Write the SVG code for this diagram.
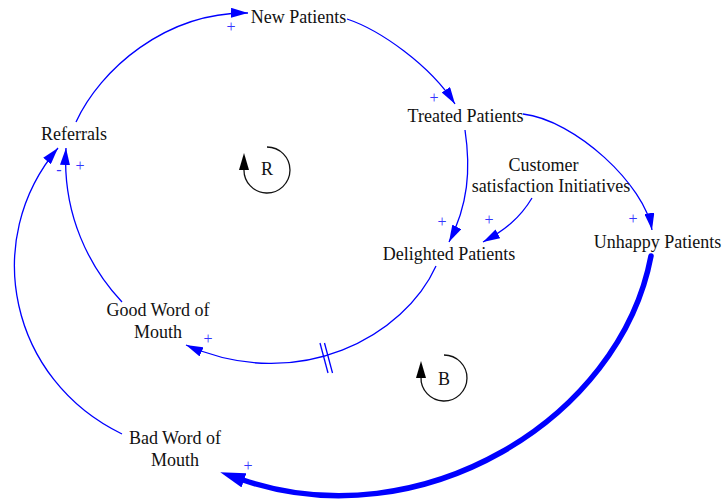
<svg xmlns="http://www.w3.org/2000/svg" width="723" height="500" viewBox="0 0 723 500">
<defs>
<style>
.lbl{font-family:"Liberation Serif","Times New Roman",serif;font-size:18px;fill:#111;text-anchor:middle}
.pol{font-family:"Liberation Serif","Times New Roman",serif;font-size:16px;fill:#3434ff;text-anchor:middle}
.link{fill:none;stroke:#0000ff;stroke-width:1.3}
.thick{fill:none;stroke:#0000ff;stroke-width:5.5;stroke-linecap:round}
.loop{fill:none;stroke:#111;stroke-width:1.3}
</style>
<marker id="arr" markerUnits="userSpaceOnUse" markerWidth="17" markerHeight="10" refX="17" refY="5" orient="auto" viewBox="0 0 17 10">
<path d="M0,0 L17,5 L0,10 z" fill="#0000ff"/>
</marker>
<marker id="arrBig" markerUnits="userSpaceOnUse" markerWidth="25" markerHeight="15" refX="1" refY="7.5" orient="auto" viewBox="0 0 25 15">
<path d="M0,0 L25,7.5 L0,15 z" fill="#0000ff"/>
</marker>
</defs>
<rect width="723" height="500" fill="#fff"/>
<g id="connectors">
<path class="link" d="M76,122 C100,70 165,12 248,13" marker-end="url(#arr)"/>
<path class="link" d="M347,19 C380,30 430,65 455,104" marker-end="url(#arr)"/>
<path class="link" d="M465,130 C471,170 468,205 449,242" marker-end="url(#arr)"/>
<path class="link" d="M532,198 C520,218 505,230 483,242" marker-end="url(#arr)"/>
<path class="link" d="M523,114 C575,120 645,185 652,230" marker-end="url(#arr)"/>
<path class="link" d="M436,266 C405,335 300,395 186,345" marker-end="url(#arr)"/>
<path class="link" d="M122,302 C90,268 62,215 66,148" marker-end="url(#arr)"/>
<path class="link" d="M122,434 C10,380 -20,240 58,148" marker-end="url(#arr)"/>
<path class="thick" d="M651,256 C620,420 420,540 243,480" marker-end="url(#arrBig)"/>
<line x1="320" y1="343" x2="328" y2="373" stroke="#0000ff" stroke-width="1.3"/>
<line x1="324.5" y1="343" x2="332.5" y2="373" stroke="#0000ff" stroke-width="1.3"/>
<text class="pol" x="231" y="32">+</text>
<text class="pol" x="434" y="103">+</text>
<text class="pol" x="442" y="227">+</text>
<text class="pol" x="489" y="225">+</text>
<text class="pol" x="633" y="224">+</text>
<text class="pol" x="208" y="344">+</text>
<text class="pol" x="80" y="171">+</text>
<text class="pol" x="59" y="175">-</text>
<text class="pol" x="248" y="471">+</text>
</g>
<g id="new-patients"><text class="lbl" x="298.5" y="23">New Patients</text></g>
<g id="referrals"><text class="lbl" x="74" y="140">Referrals</text></g>
<g id="treated-patients"><text class="lbl" x="465.5" y="122">Treated Patients</text></g>
<g id="customer-satisfaction"><text class="lbl" x="543.5" y="171">Customer</text><text class="lbl" x="551" y="192">satisfaction Initiatives</text></g>
<g id="delighted-patients"><text class="lbl" x="449" y="260">Delighted Patients</text></g>
<g id="unhappy-patients"><text class="lbl" x="657.5" y="248">Unhappy Patients</text></g>
<g id="good-word"><text class="lbl" x="158" y="316">Good Word of</text><text class="lbl" x="158" y="338">Mouth</text></g>
<g id="bad-word"><text class="lbl" x="175" y="444">Bad Word of</text><text class="lbl" x="175" y="466">Mouth</text></g>
<g id="loop-r">
<path class="loop" d="M267,147 A23,23 0 1 1 244,169"/>
<path d="M244,153 L239,170 L249,170 z" fill="#000"/>
<text class="lbl" x="267" y="175">R</text>
</g>
<g id="loop-b">
<path class="loop" d="M444,355 A23,23 0 1 1 421,377"/>
<path d="M421,361 L416,378 L426,378 z" fill="#000"/>
<text class="lbl" x="444" y="385">B</text>
</g>
</svg>
